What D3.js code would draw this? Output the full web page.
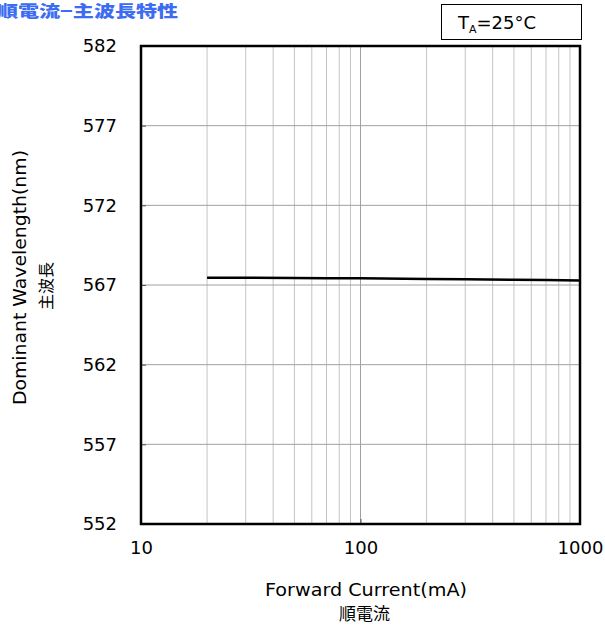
<!DOCTYPE html>
<html><head><meta charset="utf-8">
<script src="https://cdn.jsdelivr.net/npm/d3@7"></script>
<style>body{margin:0;background:#fff}svg{display:block}</style>
</head><body>
<script>
const currents = [20, 30, 50, 70, 100, 200, 300, 500, 700, 1000];
const wavelengths = [567.46, 567.45, 567.44, 567.43, 567.42, 567.38, 567.36, 567.33, 567.31, 567.29];
const yTicks = [552, 557, 562, 567, 572, 577, 582];
const xTicks = [10, 100, 1000];
const xMinor = [20,30,40,50,60,70,80,90,200,300,400,500,600,700,800,900];

const W = 605, H = 627;
const m = {left:141, right:580, top:46, bottom:524};
const svg = d3.select("body").append("svg").attr("width", W).attr("height", H);
const font = "'DejaVu Sans', sans-serif";
const cjk = "'Noto Sans CJK JP', sans-serif";

const x = d3.scaleLog().domain([10,1000]).range([m.left, m.right]);
const y = d3.scaleLinear().domain([552,582]).range([m.bottom, m.top]);

// grid
svg.append("g").selectAll("line").data(xMinor).join("line")
  .attr("x1", d=>x(d)).attr("x2", d=>x(d)).attr("y1", m.top).attr("y2", m.bottom)
  .attr("stroke", "#c4c4c4").attr("stroke-width", 1);
svg.append("g").selectAll("line").data([100]).join("line")
  .attr("x1", d=>x(d)).attr("x2", d=>x(d)).attr("y1", m.top).attr("y2", m.bottom)
  .attr("stroke", "#a0a0a0").attr("stroke-width", 1);
svg.append("g").selectAll("line").data(yTicks.slice(1,-1)).join("line")
  .attr("x1", m.left).attr("x2", m.right).attr("y1", d=>y(d)).attr("y2", d=>y(d))
  .attr("stroke", "#a0a0a0").attr("stroke-width", 1);

// axes
const xa = svg.append("g").attr("transform", `translate(0,${m.bottom})`)
  .call(d3.axisBottom(x).tickValues(xTicks).tickFormat(d3.format("d")).tickSize(-5).tickPadding(17));
const ya = svg.append("g").attr("transform", `translate(${m.left},0)`)
  .call(d3.axisLeft(y).tickValues(yTicks).tickSize(-5).tickPadding(24));
[xa, ya].forEach(g=>{
  g.select(".domain").remove();
  g.selectAll("line").attr("stroke", "#555");
  g.selectAll("text").attr("font-family", font).attr("font-size", 18).attr("fill", "#000");
});

// frame
svg.append("rect").attr("x", m.left).attr("y", m.top)
  .attr("width", m.right-m.left).attr("height", m.bottom-m.top)
  .attr("fill", "none").attr("stroke", "#000").attr("stroke-width", 2.5);

// line
svg.append("path").datum(currents.map((c,i)=>[c, wavelengths[i]]))
  .attr("d", d3.line().x(d=>x(d[0])).y(d=>y(d[1])))
  .attr("fill", "none").attr("stroke", "#000").attr("stroke-width", 2.5);

// titles
svg.append("text").attr("x", -3).attr("y", 17).attr("font-family", cjk).attr("font-weight", "900")
  .attr("font-size", 16).attr("fill", "#3b6cf2")
  .attr("textLength", 181).attr("lengthAdjust", "spacingAndGlyphs").text("順電流−主波長特性");

svg.append("text").attr("x", 265).attr("y", 596)
  .attr("font-family", font).attr("font-size", 18)
  .attr("textLength", 202).attr("lengthAdjust", "spacingAndGlyphs").text("Forward Current(mA)");
svg.append("text").attr("x", 364.5).attr("y", 620).attr("text-anchor", "middle")
  .attr("font-family", cjk).attr("font-size", 17).text("順電流");

svg.append("text").attr("transform", `translate(26,${405}) rotate(-90)`)
  .attr("font-family", font).attr("font-size", 18)
  .attr("textLength", 255).attr("lengthAdjust", "spacingAndGlyphs").text("Dominant Wavelength(nm)");
svg.append("text").attr("transform", `translate(52,${286}) rotate(-90)`)
  .attr("text-anchor", "middle").attr("font-family", cjk).attr("font-size", 16).text("主波長");

// legend box
svg.append("rect").attr("x", 441.5).attr("y", 4.5).attr("width", 140).attr("height", 35)
  .attr("fill", "#fff").attr("stroke", "#000").attr("stroke-width", 1);
const t = svg.append("text").attr("x", 458).attr("y", 29).attr("font-family", font).attr("font-size", 18);
t.append("tspan").text("T");
t.append("tspan").attr("font-size", 11).attr("dy", 4).text("A");
t.append("tspan").attr("dy", -4).text("=25°C");
</script>
</body></html>
